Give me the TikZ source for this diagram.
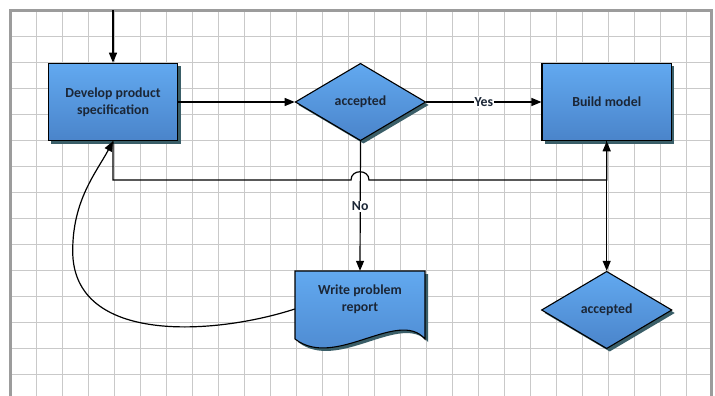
\documentclass[tikz,border=0pt]{standalone}
\usepackage{fontspec}
\setmainfont{Carlito}
\usetikzlibrary{arrows.meta,shapes.geometric,shadows}

\definecolor{gridc}{HTML}{C9C9C9}
\definecolor{framec}{HTML}{9C9C9C}
\definecolor{boxtop}{HTML}{62A9F0}
\definecolor{boxbot}{HTML}{4A84CA}
\definecolor{shadowc}{HTML}{3A5E68}
\definecolor{inkc}{HTML}{1B2636}

\tikzset{
  txt/.style={text=inkc, font=\fontsize{13.8}{17}\selectfont\bfseries},
  flowshape/.style={draw=black, line width=1.1pt, top color=boxtop, bottom color=boxbot,
    drop shadow={shadow xshift=3pt, shadow yshift=-3pt, fill=shadowc, opacity=1},
    txt, align=center, inner sep=0pt},
  procbox/.style={flowshape, rectangle, minimum width=129.4pt, minimum height=77.4pt},
  decision/.style={flowshape, diamond, aspect=1.69, minimum width=130.5pt, minimum height=77.4pt},
  conn/.style={draw=black, line width=1.2pt},
  arr/.style={conn, -{Triangle[length=10pt, width=8pt]}},
  lbl/.style={fill=white, inner sep=1pt, txt},
}

\begin{document}
\begin{tikzpicture}[x=1pt, y=-1pt]
  \useasboundingbox (0,0) rectangle (715,396);
  \fill[white] (0,0) rectangle (715,396);

  % drawing grid and page frame
  \foreach \i in {1,...,26} \draw[gridc, line width=1pt] (10.5+26*\i,10.5) -- (10.5+26*\i,396);
  \foreach \j in {1,...,14} \draw[gridc, line width=1pt] (10.5,10.5+26*\j) -- (711.5,10.5+26*\j);
  \draw[framec, line width=2.5pt] (10.5,396) -- (10.5,10.5) -- (711.5,10.5) -- (711.5,396);

  % process steps and decisions
  \node[procbox] (spec) at (113,102) {Develop product\\specification};
  \node[decision] (acc1) at (360.5,102) {accepted};
  \node[procbox] (build) at (606.7,102) {Build model};
  \node[decision] (acc2) at (606.7,310) {accepted};

  % document shape with a wavy bottom edge
  \def\docpath{(295,271) -- (425,271) -- (425,339) .. controls (398,308) and (335,370) .. (295,339) -- cycle}
  \fill[shadowc, shift={(3pt,-3pt)}] \docpath;
  \shade[top color=boxtop, bottom color=boxbot] \docpath;
  \draw[black, line width=1.1pt, line join=miter] \docpath;
  \node[minimum width=130pt, minimum height=68pt, inner sep=0pt] (doc) at (360,305) {};
  \node[txt, align=center] (doctext) at (360,299) {Write problem\\report};

  % connectors
  \coordinate (start) at (113,10.5);
  \draw[arr] (start) -- (spec.north);
  \draw[arr] (spec.east) -- (acc1.west);
  \draw[arr] (acc1.east) -- node[lbl] {Yes} (build.west);
  \draw[arr] (spec.south) |- (351,180) .. controls (351,169) and (369,169) .. (369,180) -| (build.south);
  \draw[arr] (build.south) -- (acc2.north);
  \draw[arr] (acc1.south) -- node[lbl, pos=0.5] {No} (doc.north);
  \draw[arr] ([yshift=-4pt]doc.west) .. controls (215,335) and (72.7,345) .. (72.7,251)
             .. controls (72.7,200) and (96,173) .. (spec.south);
\end{tikzpicture}
\end{document}
